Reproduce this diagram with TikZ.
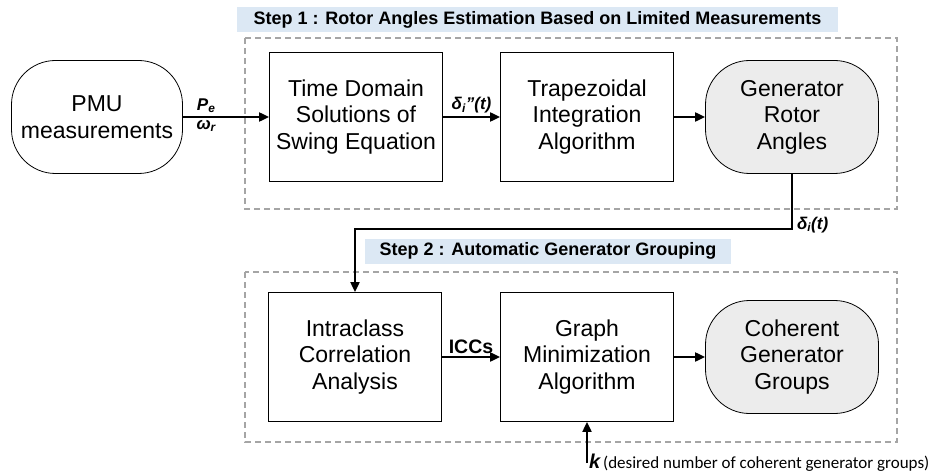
\documentclass[tikz,border=0pt]{standalone}
\usepackage{fontspec}
\setmainfont{Liberation Sans}
\newfontfamily\notefont{Carlito}
\usepackage{xcolor}
\usepackage{tikz}
\usetikzlibrary{positioning,calc,arrows.meta}
\definecolor{StepBlue}{RGB}{220,232,244}
\definecolor{ResultGrey}{RGB}{236,236,236}
\definecolor{FrameGrey}{RGB}{165,165,165}
\tikzset{
    block/.style={rectangle, draw=black, line width=0.8pt, fill=white, minimum width=173pt, minimum height=129pt, inner sep=0pt, align=center, font=\fontsize{23}{26.5}\selectfont},
    term/.style={block, rounded corners=44pt, minimum width=171pt, minimum height=113pt},
    result/.style={term, fill=ResultGrey, minimum width=173pt},
    steptag/.style={fill=StepBlue, inner sep=0pt, minimum height=25pt, font=\bfseries\fontsize{18}{20}\selectfont},
    stageframe/.style={draw=FrameGrey, line width=1.6pt, dash pattern=on 6pt off 4pt},
    flow/.style={-{Triangle[length=10pt,width=9pt]}, line width=2pt},
    siglabel/.style={font=\bfseries\itshape\fontsize{17}{18}\selectfont, inner sep=1pt}
}
\begin{document}
\begin{tikzpicture}[x=1pt, y=-1pt]
    \useasboundingbox (0,0) rectangle (928,473);
    % Step 1
    \node[steptag, minimum width=601pt] (tag1) at (537.5,19.5) {Step 1 : Rotor Angles Estimation Based on Limited Measurements};
    \draw[stageframe] (245,38) rectangle (897,209);
    \node[term] (pmu) at (97,117) {PMU\\measurements};
    \node[block] (swing) at (356,117) {Time Domain\\Solutions of\\Swing Equation};
    \node[block] (trap) at (587,117) {Trapezoidal\\Integration\\Algorithm};
    \node[result] (rotor) at (792,117) {Generator\\Rotor\\Angles};
    % Step 2
    \node[steptag, minimum width=366pt] (tag2) at (548,251) {Step 2 : Automatic Generator Grouping};
    \draw[stageframe] (245,272) rectangle (897,442);
    \node[block] (icc) at (355,357) {Intraclass\\Correlation\\Analysis};
    \node[block] (graph) at (587,357) {Graph\\Minimization\\Algorithm};
    \node[result] (groups) at (792,357) {Coherent\\Generator\\Groups};
    \coordinate (kin) at (587,463);
    % connectors
    \draw[flow] (pmu) -- node[siglabel, pos=0.27, above=2pt] {P\textsubscript{e}} node[siglabel, pos=0.27, below=1pt] {ω\textsubscript{r}} (swing);
    \draw[flow] (swing) -- node[siglabel, above=2pt] {δ\textsubscript{i}\symbol{34}(t)} (trap);
    \draw[flow] (trap) -- (rotor);
    \draw[flow] (rotor.south) -- ++(0,55) node[siglabel, anchor=west, xshift=3pt, yshift=4pt] {δ\textsubscript{i}(t)} -| (icc.north);
    \draw[flow] (icc) -- node[above=1pt, font=\bfseries\fontsize{19.5}{20}\selectfont, inner sep=1pt] {ICCs} (graph);
    \draw[flow] (graph) -- (groups);
    \draw[flow] (kin) -- (graph.south);
    \node[anchor=west, inner sep=1pt] (knote) at ([xshift=1pt]kin) {{\bfseries\itshape\fontsize{20}{20}\selectfont k} {\notefont\fontsize{17}{18}\selectfont(desired number of coherent generator groups)}};
\end{tikzpicture}
\end{document}
